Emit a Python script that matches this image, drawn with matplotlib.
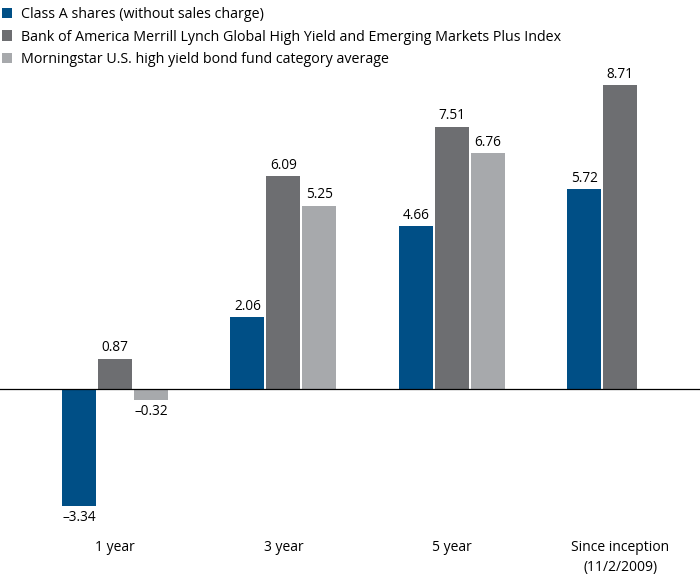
import numpy as np
import matplotlib
matplotlib.use('Agg')
import matplotlib.pyplot as plt
from matplotlib.patches import Patch

plt.rcParams['font.family'] = ['Open Sans', 'DejaVu Sans']

categories = ['1 year', '3 year', '5 year', 'Since inception\n(11/2/2009)']
series_names = ['Class A shares (without sales charge)',
                'Bank of America Merrill Lynch Global High Yield and Emerging Markets Plus Index',
                'Morningstar U.S. high yield bond fund category average']
class_a = [-3.34, 2.06, 4.66, 5.72]
index_vals = [0.87, 6.09, 7.51, 8.71]
category_avg = [-0.32, 5.25, 6.76, None]

colors = ['#004f86', '#6d6e71', '#a7a9ac']

fig = plt.figure(figsize=(7, 5.88), dpi=100)
W, H = 700, 588
# axes placed in pixel coords: top 80, bottom 520
ax = fig.add_axes([0, (H - 520) / H, 1, 440 / H])

px_per_group = 168.4
x = np.arange(len(categories))
width = 34 / px_per_group
step = 36 / px_per_group

for k, vals in enumerate([class_a, index_vals, category_avg]):
    for i, v in enumerate(vals):
        if v is None:
            continue
        xi = x[i] + (k - 1) * step
        ax.bar(xi, v, width=width, color=colors[k], linewidth=0)
        txt = f'{v:.2f}'.replace('-', '\u2013')
        if v >= 0:
            ax.annotate(txt, (xi, v), xytext=(0, 2.5), textcoords='offset points',
                        ha='center', va='bottom', fontsize=9.8)
        else:
            ax.annotate(txt, (xi, v), xytext=(0, -3), textcoords='offset points',
                        ha='center', va='top', fontsize=9.8)

ax.axhline(0, color='black', lw=0.9)
ax.set_xlim(-115 / px_per_group, (700 - 115) / px_per_group)
scale = 34.9
ax.set_ylim(-(520 - 389) / scale, (389 - 80) / scale)
ax.axis('off')

for i, c in enumerate(categories):
    ax.annotate(c, (x[i], 0), xycoords=('data', 'figure fraction'),
                xytext=(x[i], (H - 540) / H), textcoords=('data', 'figure fraction'),
                ha='center', va='top', fontsize=10, linespacing=1.45)

handles = [Patch(facecolor=colors[k], edgecolor='none') for k in range(3)]
fig.legend(handles, series_names, loc='upper left', bbox_to_anchor=(-0.012, 1.005),
           frameon=False, fontsize=10.3, handlelength=0.75, handleheight=0.75,
           handletextpad=0.6, labelspacing=0.52, borderaxespad=0.3)

fig.savefig('out.png', dpi=100)
